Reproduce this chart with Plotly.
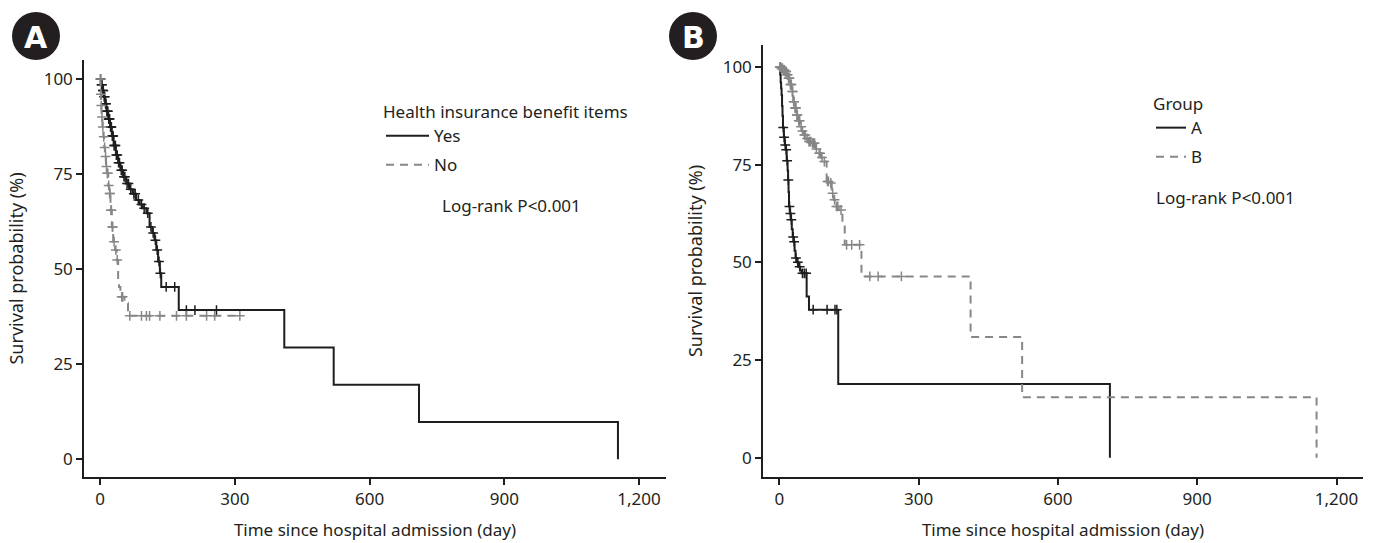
import numpy as np
import plotly.graph_objects as go

# ---------------- data ----------------
# Panel A: Health insurance benefit items
a_yes_t = [0, 2, 5, 8, 11, 14, 18, 22, 26, 30, 35, 40, 45, 51, 58, 65, 72, 80, 88, 95,
           103, 110, 116, 121, 125, 129, 133, 136, 175, 410, 520, 710, 1153]
a_yes_s = [100, 98.5, 97, 95.3, 93.5, 91.5, 89.5, 87.4, 85, 82.5, 80, 78, 76, 74.3, 72.5,
           71, 69.8, 68.2, 67, 66, 64.7, 61.1, 59.5, 57.6, 55, 52, 48.9, 45.3, 39.2,
           29.4, 19.6, 9.8, 0]
a_yes_cens = [1, 3, 4, 6, 7, 9, 10, 12, 13, 15, 16, 17, 19, 20, 21, 23, 24, 25, 27, 28, 29,
              31, 33, 34, 36, 38, 41, 43, 47, 49, 53, 55, 60, 63, 68, 75, 78, 85, 92, 98,
              106, 113, 118, 123, 127, 131, 134, 147, 166, 192, 211, 259]

a_no_t = [0, 1, 2, 3, 5, 7, 9, 11, 13, 15, 18, 20, 23, 26, 29, 33, 37, 40, 42, 45, 54, 62]
a_no_s = [100, 96, 93, 90, 87.4, 84.8, 82, 79.6, 77, 75.2, 72, 69.9, 65.5, 61.1, 57.2, 55,
          52.4, 47, 45.3, 42.7, 41, 37.7]
a_no_cens = [0.5, 1.5, 2.5, 4, 6, 8, 10, 12, 14, 16, 17, 19, 21, 22, 24, 25, 27, 28, 31,
             35, 38, 48, 50, 66, 92, 103, 110, 133, 170, 192, 237, 255, 311]
a_no_end = 311

# Panel B: Group
b_a_t = [0, 2, 3, 4, 5, 6, 7, 8, 10, 12, 14, 16, 18, 19, 20, 21, 23, 25, 27, 29, 31, 33,
         35, 38, 41, 45, 48, 59, 64, 127, 712]
b_a_s = [100, 98, 96, 94.5, 92.8, 90, 87.5, 84.5, 82, 80, 78.8, 76, 73.5, 71.1, 68, 64.3,
         62.5, 60.9, 58.5, 56.5, 55.3, 53, 51.1, 50, 48.9, 48, 47.2, 41.3, 37.9, 18.9, 0]
b_a_cens = [8.6, 10.5, 13, 15, 17, 19.5, 22, 24, 26, 30, 32, 36, 40, 44, 50, 54, 58,
            73, 103, 120, 124]

b_b_t = [0, 4, 8, 12, 16, 19, 23, 27, 30, 33, 37, 41, 45, 49, 52, 57, 62, 70, 78, 84, 90,
         95, 102, 109, 113, 117, 120, 128, 136, 141, 177, 412, 523, 1157]
b_b_s = [100, 99.6, 99.2, 98.8, 98, 97.1, 95.5, 93.7, 91.1, 89.5, 87.7, 86.2, 84.7, 83.6,
         82.6, 81.7, 80.9, 80.5, 79, 77.9, 76.8, 75.8, 70.7, 70.3, 67.7, 66, 64.3, 63.4,
         59.2, 54.5, 46.4, 30.9, 15.5, 0]
b_b_cens = [1, 2, 3, 5, 6, 7, 9, 10, 11, 13, 14, 15, 17, 18, 20, 21, 22, 24, 25, 26, 28,
            29, 31, 32, 34, 35, 36, 38, 39, 42, 44, 47, 50, 54, 56, 60, 64, 66, 68, 72, 74,
            76, 80, 86, 88, 92, 97, 104, 106, 111, 115, 119, 123, 126, 133, 145, 156, 173,
            195, 213, 263]

x_ticks = [0, 300, 600, 900, 1200]
x_ticklabels = ["0", "300", "600", "900", "1,200"]
y_ticks = [0, 25, 50, 75, 100]

# ---------------- styling ----------------
FONT = "Noto Sans"
TXT = "#231f20"
BLACK = "#1e1e1e"
GRAY = "#878787"
W, H = 1382, 543


def px_x(p):
    return p / W


def px_y(p):
    return 1 - p / H


def surv_at(t_steps, s_steps, times):
    t_steps = np.asarray(t_steps, float)
    idx = np.searchsorted(t_steps, np.asarray(times, float), side="right") - 1
    return np.asarray(s_steps, float)[idx]


fig = go.Figure()


def add_curve(t, s, cens, color, dash, name, xa, ya, legend, end=None):
    xs = list(t)
    ys = list(s)
    if end is not None:
        xs.append(end)
        ys.append(s[-1])
    fig.add_trace(go.Scatter(
        x=xs, y=ys, mode="lines", line=dict(color=color, width=2, dash=dash, shape="hv"),
        name=name, xaxis=xa, yaxis=ya, legend=legend, legendgroup=legend + name,
        hoverinfo="skip"))
    fig.add_trace(go.Scatter(
        x=cens, y=surv_at(t, s, cens), mode="markers",
        marker=dict(symbol="cross-thin", size=7, line=dict(color=color, width=1.5)),
        showlegend=False, xaxis=xa, yaxis=ya, legendgroup=legend + name, hoverinfo="skip"))


DASH = "8px,6px"
add_curve(a_yes_t, a_yes_s, a_yes_cens, BLACK, "solid", "Yes", "x", "y", "legend")
add_curve(a_no_t, a_no_s, a_no_cens, GRAY, DASH, "No", "x", "y", "legend", end=a_no_end)
add_curve(b_a_t, b_a_s, b_a_cens, BLACK, "solid", "A", "x2", "y2", "legend2")
add_curve(b_b_t, b_b_s, b_b_cens, GRAY, DASH, "B", "x2", "y2", "legend2")

axis_common = dict(
    showline=True, linecolor=BLACK, linewidth=1.5, ticks="outside", ticklen=6,
    tickwidth=1.5, tickcolor=BLACK, showgrid=False, zeroline=False, automargin=False,
    tickfont=dict(family=FONT, size=17, color=TXT), mirror=False,
)
xt = dict(title=dict(text="Time since hospital admission (day)",
                     font=dict(family=FONT, size=17, color=TXT), standoff=15),
          tickmode="array", tickvals=x_ticks, ticktext=x_ticklabels)
yt = dict(title=dict(text="Survival probability (%)",
                     font=dict(family=FONT, size=18, color=TXT), standoff=15),
          tickmode="array", tickvals=y_ticks)

LEG_FONT = dict(family=FONT, size=17, color=TXT)
fig.update_layout(
    width=W, height=H, margin=dict(l=0, r=0, t=0, b=0),
    paper_bgcolor="white", plot_bgcolor="white",
    font=dict(family=FONT, color=TXT),
    xaxis=dict(**axis_common, **xt, domain=[px_x(84), px_x(666)], range=[-36, 1260],
               anchor="y"),
    yaxis=dict(**axis_common, **yt, domain=[px_y(477), px_y(60)], range=[-4.7, 105],
               anchor="x"),
    xaxis2=dict(**axis_common, **xt, domain=[px_x(763), px_x(1363)], range=[-35, 1257],
                anchor="y2"),
    yaxis2=dict(**axis_common, **yt, domain=[px_y(477), px_y(45)], range=[-4.9, 105.6],
                anchor="x2"),
    legend=dict(x=px_x(381), y=px_y(96), xanchor="left", yanchor="top",
                title=dict(text="Health insurance benefit items", font=LEG_FONT),
                font=LEG_FONT, itemwidth=43, bgcolor="rgba(0,0,0,0)", tracegroupgap=4),
    legend2=dict(x=px_x(1151), y=px_y(88), xanchor="left", yanchor="top",
                 title=dict(text="Group", font=LEG_FONT),
                 font=LEG_FONT, itemwidth=30, bgcolor="rgba(0,0,0,0)", tracegroupgap=4),
    showlegend=True,
)

# P-value annotations
for cx, cy in [(512, 205), (1225, 197)]:
    fig.add_annotation(text="Log-rank P<0.001", x=px_x(cx), y=px_y(cy), xref="paper",
                       yref="paper", xanchor="center", yanchor="middle", showarrow=False,
                       font=LEG_FONT)

# Panel badges
for lab, cx, cy in [("A", 36, 36), ("B", 693, 36)]:
    r = 24
    fig.add_shape(type="circle", xref="paper", yref="paper", layer="below",
                  x0=px_x(cx - r), x1=px_x(cx + r), y0=px_y(cy + r), y1=px_y(cy - r),
                  fillcolor="#231f20", line=dict(color="#231f20", width=0))
    fig.add_annotation(text="<b>%s</b>" % lab, x=px_x(cx), y=px_y(cy + 1), xref="paper",
                       yref="paper", xanchor="center", yanchor="middle", showarrow=False,
                       font=dict(family="DejaVu Sans", size=30, color="white"))

fig.write_html("out.html", config={"displayModeBar": False},
               post_script="document.body.style.margin='0px';")
